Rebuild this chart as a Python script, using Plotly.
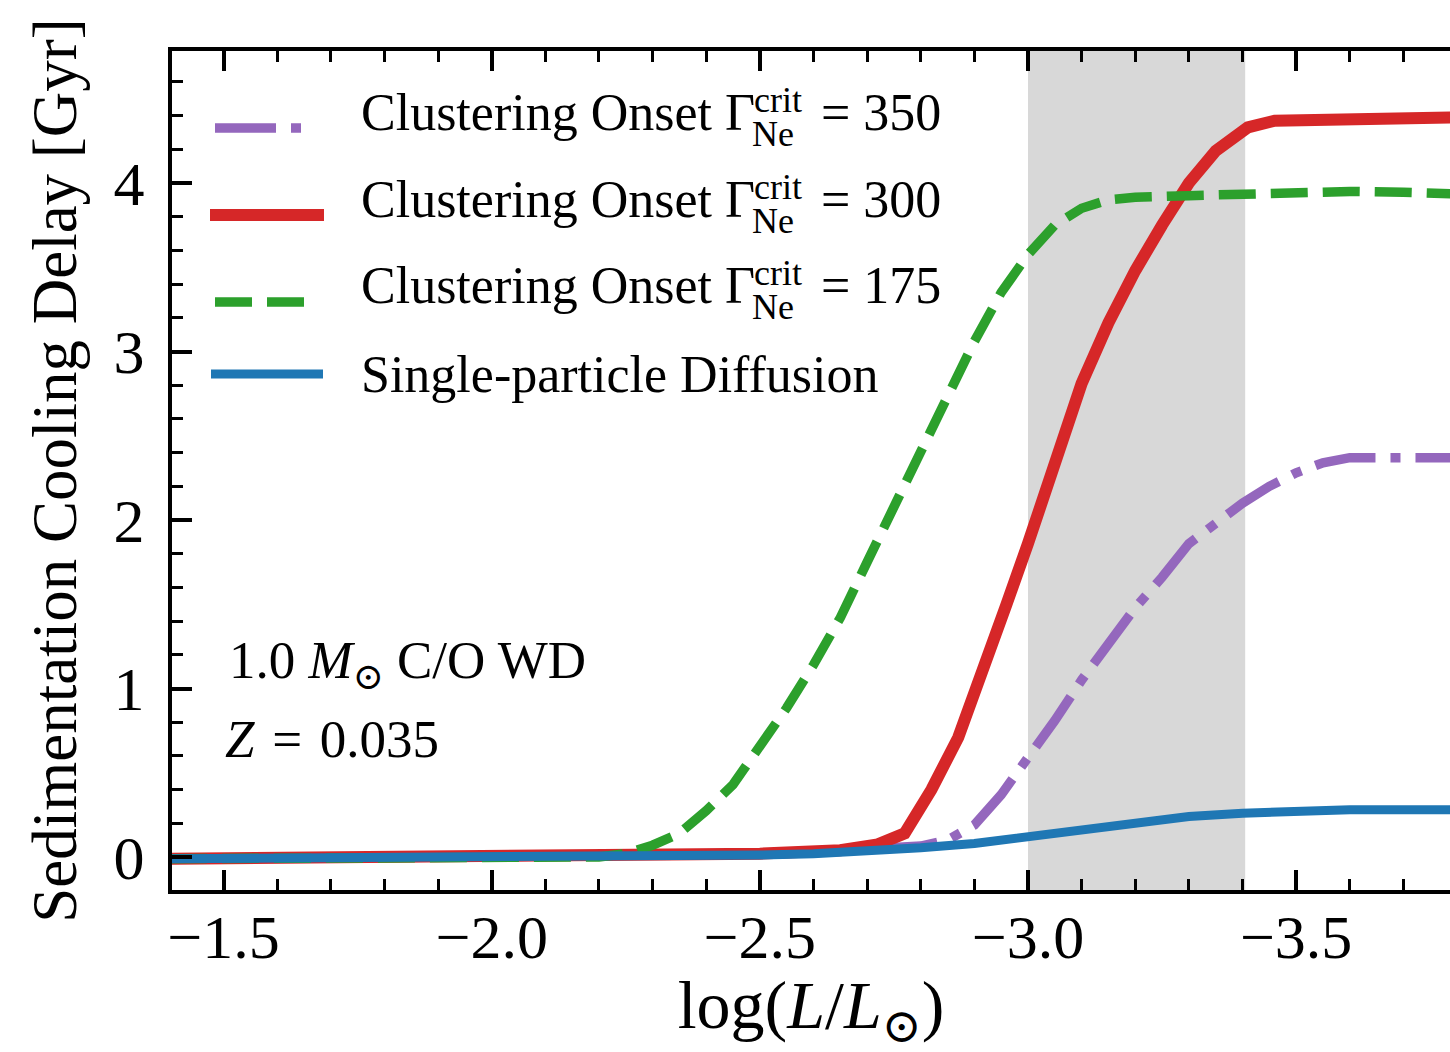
import plotly.graph_objects as go

FONT = "Liberation Serif, Times New Roman, DejaVu Serif, serif"

# ---------------- data ----------------
purple_x = [-1.40, -2.00, -2.60, -2.70, -2.80, -2.85, -2.90, -2.95, -3.00, -3.05, -3.10,
            -3.15, -3.20, -3.25, -3.30, -3.35, -3.40, -3.45, -3.50, -3.55, -3.60, -3.80]
purple_y = [-0.01, 0.0, 0.03, 0.045, 0.065, 0.10, 0.19, 0.37, 0.58, 0.81, 1.05,
            1.26, 1.48, 1.66, 1.86, 1.98, 2.10, 2.20, 2.28, 2.34, 2.37, 2.37]

red_x = [-1.40, -2.00, -2.50, -2.65, -2.72, -2.77, -2.82, -2.87, -2.92, -2.96, -3.00,
         -3.05, -3.10, -3.15, -3.20, -3.25, -3.30, -3.35, -3.41, -3.46, -3.60, -3.80]
red_y = [-0.01, 0.0, 0.02, 0.04, 0.075, 0.14, 0.40, 0.71, 1.13, 1.50, 1.86,
         2.35, 2.81, 3.17, 3.48, 3.75, 4.00, 4.19, 4.33, 4.37, 4.38, 4.39]

green_x = [-1.40, -2.20, -2.25, -2.30, -2.35, -2.40, -2.45, -2.50, -2.55, -2.60, -2.65,
           -2.70, -2.75, -2.80, -2.85, -2.90, -2.95, -3.00, -3.05, -3.10, -3.15, -3.20,
           -3.30, -3.40, -3.50, -3.60, -3.70, -3.80]
green_y = [-0.01, 0.0, 0.02, 0.07, 0.14, 0.275, 0.43, 0.65, 0.885, 1.14, 1.42,
           1.75, 2.075, 2.39, 2.74, 3.06, 3.35, 3.575, 3.75, 3.85, 3.90, 3.915,
           3.925, 3.935, 3.945, 3.95, 3.945, 3.935]

blue_x = [-1.40, -2.00, -2.20, -2.50, -2.60, -2.70, -2.80, -2.90, -3.00, -3.10, -3.20,
          -3.30, -3.40, -3.50, -3.60, -3.80]
blue_y = [-0.01, -0.005, 0.0, 0.012, 0.02, 0.035, 0.055, 0.08, 0.12, 0.165, 0.21,
          0.24, 0.26, 0.275, 0.28, 0.28]

shade_x = [-3.0, -3.405]

series_names = ["Clustering Onset Γ = 350", "Clustering Onset Γ = 300",
                "Clustering Onset Γ = 175", "Single-particle Diffusion"]
gamma_values = ["350", "300", "175"]

x_ticks = [-1.5, -2.0, -2.5, -3.0, -3.5]
x_ticktext = ["−1.5", "−2.0", "−2.5", "−3.0", "−3.5"]
y_ticks = [0, 1, 2, 3, 4]

# ---------------- layout geometry ----------------
W, H = 1450, 1052
L, R, T, B = 172, 1450, 51, 890
XR = [-1.4039, -3.7869]
YR = [-0.1958, 4.7834]

C_PURPLE, C_RED, C_GREEN, C_BLUE = "#9467bd", "#d62728", "#2ca02c", "#1f77b4"
DASH_GREEN = "37px,15px"
DASH_PURPLE = "61px,15px,10px,15px"


def px2paper(px, py):
    return (px - L) / (R - L), (B - py) / (B - T)


fig = go.Figure()
fig.add_vrect(x0=shade_x[0], x1=shade_x[1], fillcolor="#d8d8d8", line_width=0,
              layer="below")

fig.add_trace(go.Scatter(x=purple_x, y=purple_y, mode="lines", name=series_names[0],
                         line=dict(color=C_PURPLE, width=9.5, dash=DASH_PURPLE)))
fig.add_trace(go.Scatter(x=red_x, y=red_y, mode="lines", name=series_names[1],
                         line=dict(color=C_RED, width=12)))
fig.add_trace(go.Scatter(x=green_x, y=green_y, mode="lines", name=series_names[2],
                         line=dict(color=C_GREEN, width=9.5, dash=DASH_GREEN)))
fig.add_trace(go.Scatter(x=blue_x, y=blue_y, mode="lines", name=series_names[3],
                         line=dict(color=C_BLUE, width=9)))

# ---------------- manual legend ----------------
legend_rows = [
    (128, C_PURPLE, 9.5, DASH_PURPLE, 215, 304),
    (215, C_RED, 12, "solid", 210, 324),
    (302, C_GREEN, 9.5, DASH_GREEN, 215, 304),
    (374, C_BLUE, 9, "solid", 211, 323),
]
shapes = []
for py, col, w, dash, xa, xb in legend_rows:
    x0p, y0p = px2paper(xa, py)
    x1p, _ = px2paper(xb, py)
    shapes.append(dict(type="line", xref="paper", yref="paper", x0=x0p, x1=x1p,
                       y0=y0p, y1=y0p, line=dict(color=col, width=w, dash=dash)))
fig.update_layout(shapes=list(fig.layout.shapes) + shapes)

annotations = []


def ann(text, px, baseline, size):
    yc = baseline - 0.3375 * size
    xp, yp = px2paper(px, yc)
    annotations.append(dict(text=text, x=xp, y=yp, xref="paper", yref="paper",
                            xanchor="left", yanchor="middle", showarrow=False,
                            borderpad=0, font=dict(family=FONT, size=size, color="black")))


for i, base in enumerate([130, 217, 303]):
    ann("Clustering Onset Γ", 360, base, 52)
    ann("crit", 753, base - 18, 36)
    ann("Ne", 751, base + 16, 36)
    ann("= " + gamma_values[i], 820, base, 52)
ann("Single-particle Diffusion", 360, 392, 52)

ann("1.0 <i>M</i><sub>⊙</sub> C/O WD", 228, 682, 53)
ann("<i>Z</i>\u200a = \u200a0.035", 224, 757, 53)

fig.update_layout(annotations=annotations)

axis_common = dict(showgrid=False, zeroline=False, ticks="inside", tickcolor="black",
                   tickwidth=3.5, ticklen=20, automargin=False)

fig.update_layout(
    width=W, height=H,
    margin=dict(l=L, r=W - R, t=T, b=H - B, pad=0, autoexpand=False),
    paper_bgcolor="white", plot_bgcolor="white",
    showlegend=False,
    font=dict(family=FONT, color="black"),
    xaxis=dict(range=XR, tickvals=x_ticks, ticktext=x_ticktext,
               tickfont=dict(family=FONT, size=62, color="black"),
               showline=True, linewidth=4, linecolor="black", mirror="ticks",
               minor=dict(ticks="inside", dtick=0.1, tick0=0, ticklen=11, tickwidth=3,
                          tickcolor="black"),
               title=dict(text="log(<i>L</i>/<i>L</i><sub>⊙</sub>)",
                          font=dict(family=FONT, size=68, color="black"), standoff=42),
               ticklabelstandoff=-10,
               **axis_common),
    yaxis=dict(range=YR, tickvals=y_ticks,
               tickfont=dict(family=FONT, size=62, color="black"),
               showline=True, linewidth=4, linecolor="black", mirror=False,
               minor=dict(ticks="inside", dtick=0.2, tick0=0, ticklen=11, tickwidth=3,
                          tickcolor="black"),
               title=dict(text="Sedimentation Cooling Delay [Gyr]",
                          font=dict(family=FONT, size=63, color="black"), standoff=18),
               ticklabelstandoff=11,
               **axis_common),
    yaxis2=dict(range=YR, overlaying="y", side="right", anchor="x",
                tickvals=y_ticks, showticklabels=False, showline=False,
                showgrid=False, zeroline=False, ticks="inside", tickcolor="black",
                tickwidth=3.5, ticklen=13, automargin=False,
                minor=dict(ticks="inside", dtick=0.2, tick0=0, ticklen=4, tickwidth=3,
                           tickcolor="black")),
)

fig.write_html("out.html")
